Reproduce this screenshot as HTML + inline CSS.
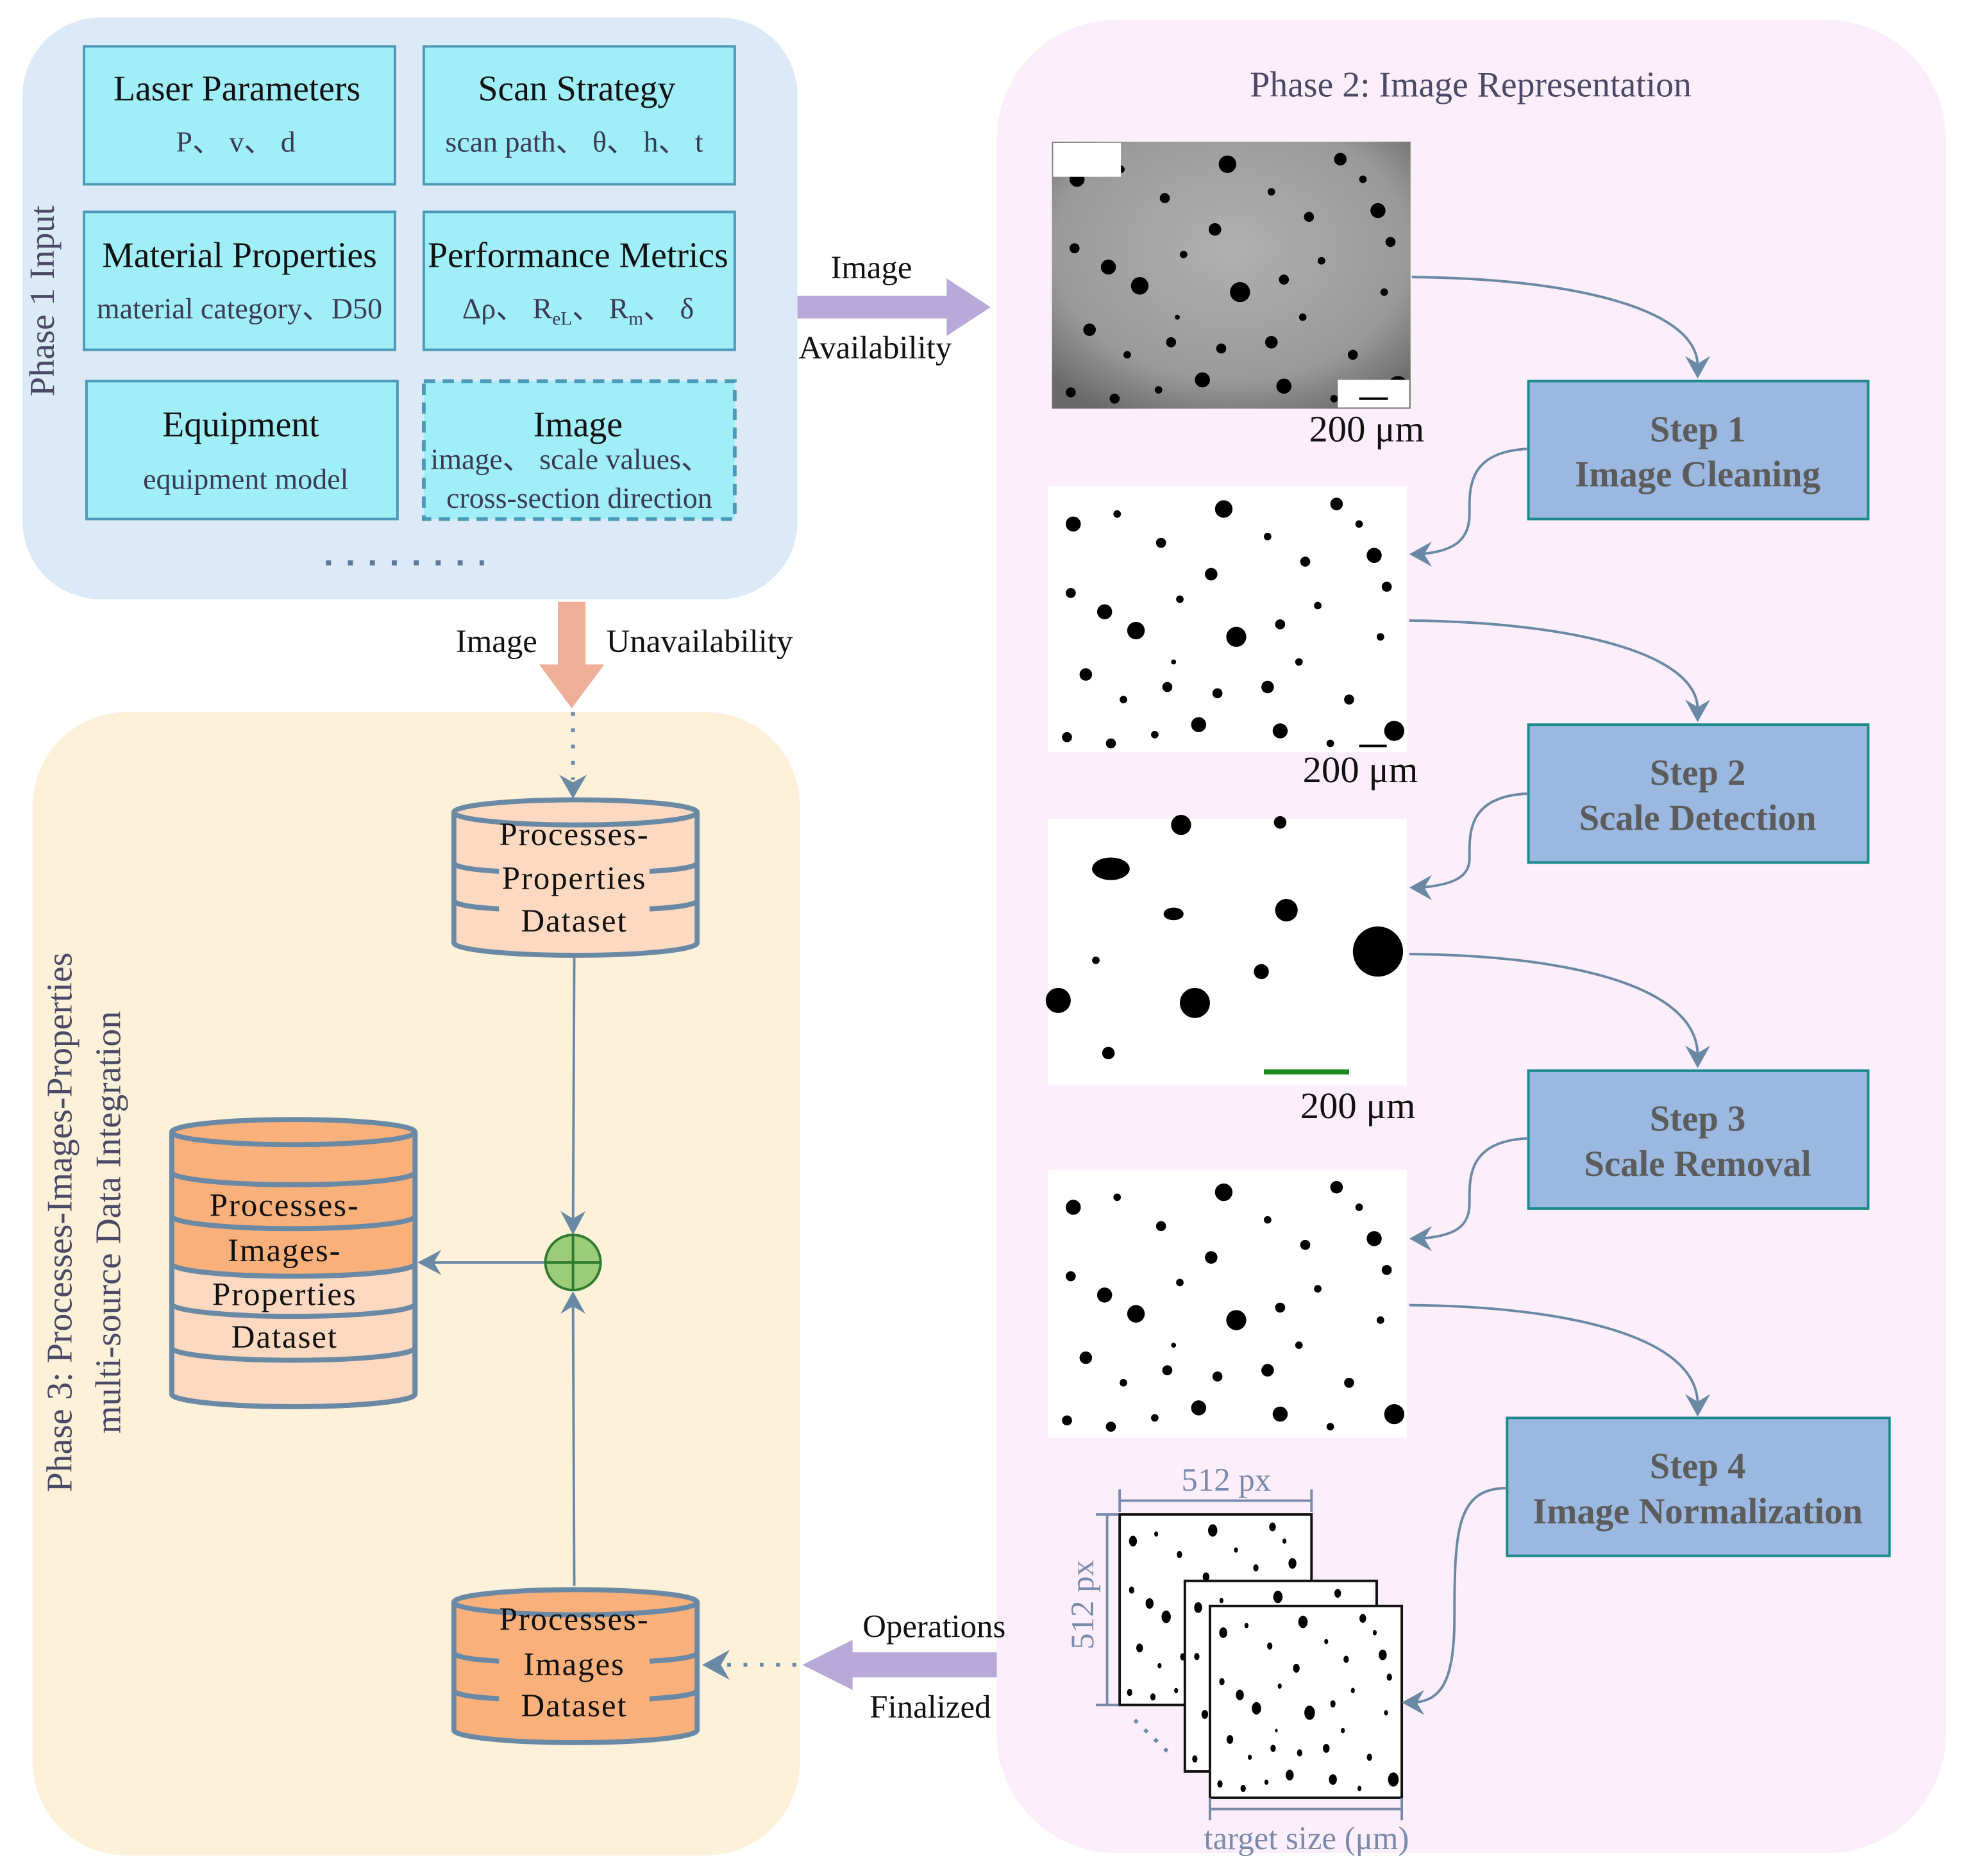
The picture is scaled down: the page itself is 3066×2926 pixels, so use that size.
<!DOCTYPE html>
<html><head><meta charset="utf-8"><style>
html,body{margin:0;padding:0;background:#fff}
svg{display:block}
text{font-family:"Liberation Serif",serif}
</style></head><body>
<svg width="3066" height="2926" viewBox="0 0 1568 1496.4" preserveAspectRatio="none" xmlns="http://www.w3.org/2000/svg">
<defs>
<g id="spots" fill="#000">
<circle cx="20" cy="30" r="6"/><circle cx="55" cy="22" r="3"/><circle cx="90" cy="45" r="4"/><circle cx="140" cy="18" r="7"/><circle cx="175" cy="40" r="3"/><circle cx="230" cy="14" r="5"/><circle cx="260" cy="55" r="6"/>
<circle cx="18" cy="85" r="4"/><circle cx="45" cy="100" r="6"/><circle cx="70" cy="115" r="7"/><circle cx="105" cy="90" r="3"/><circle cx="130" cy="70" r="5"/><circle cx="150" cy="120" r="8"/><circle cx="185" cy="110" r="4"/><circle cx="215" cy="95" r="3"/><circle cx="270" cy="80" r="4"/>
<circle cx="30" cy="150" r="5"/><circle cx="60" cy="170" r="3"/><circle cx="95" cy="160" r="4"/><circle cx="120" cy="190" r="6"/><circle cx="175" cy="160" r="5"/><circle cx="200" cy="140" r="3"/><circle cx="240" cy="170" r="4"/><circle cx="265" cy="120" r="3"/>
<circle cx="15" cy="200" r="4"/><circle cx="50" cy="205" r="4"/><circle cx="85" cy="198" r="3"/><circle cx="135" cy="165" r="4"/><circle cx="185" cy="195" r="6"/><circle cx="225" cy="205" r="3"/><circle cx="276" cy="195" r="8"/><circle cx="248" cy="30" r="3"/><circle cx="100" cy="140" r="2"/><circle cx="205" cy="60" r="4"/>
</g>
<clipPath id="c1"><rect x="0" y="0" width="286" height="213"/></clipPath>
<radialGradient id="gg" cx="0.5" cy="0.4" r="0.7"><stop offset="0" stop-color="#b0b0b0"/><stop offset="0.7" stop-color="#9a9a9a"/><stop offset="1" stop-color="#6a6a6a"/></radialGradient>
</defs>

<!-- Phase 1 panel -->
<rect x="18" y="14" width="618" height="464" rx="62" fill="#dce9f6"/>
<text transform="translate(43,240) rotate(-90)" text-anchor="middle" font-size="28" fill="#4a4a66">Phase 1 Input</text>
<g stroke="#4a9ab8" stroke-width="2" fill="#a0eef7">
<rect x="67" y="37" width="248" height="110"/>
<rect x="338" y="37" width="248" height="110"/>
<rect x="67" y="169" width="248" height="110"/>
<rect x="338" y="169" width="248" height="110"/>
<rect x="69" y="304" width="248" height="110"/>
<rect x="338" y="304" width="248" height="110" stroke-dasharray="9,6" stroke-width="3"/>
</g>
<g font-size="28.5" text-anchor="middle" fill="#111">
<text x="189" y="80">Laser Parameters</text>
<text x="460" y="80">Scan Strategy</text>
<text x="191" y="213">Material Properties</text>
<text x="461" y="213">Performance Metrics</text>
<text x="192" y="348">Equipment</text>
<text x="461" y="348">Image</text>
</g>
<g font-size="23.5" text-anchor="middle" fill="#3a3a55">
<text x="188" y="121">P、 v、 d</text>
<text x="458" y="121">scan path、 θ、 h、 t</text>
<text x="191" y="254">material category、D50</text>
<text x="461" y="254">Δρ、 R<tspan font-size="15" dy="5">eL</tspan><tspan dy="-5">、 R</tspan><tspan font-size="15" dy="5">m</tspan><tspan dy="-5">、 δ</tspan></text>
<text x="196" y="390">equipment model</text>
<text x="455" y="374">image、 scale values、</text>
<text x="462" y="405">cross-section direction</text>
</g>
<line x1="260" y1="449" x2="386" y2="449" stroke="#5a7a9a" stroke-width="4" stroke-dasharray="4,13.5"/>

<!-- Phase 2 panel -->
<rect x="795" y="16" width="757" height="1462" rx="95" fill="#fdeefb"/>
<text x="1173" y="77" text-anchor="middle" font-size="28.5" fill="#4a4a66">Phase 2: Image Representation</text>

<!-- Phase 3 panel -->
<rect x="26" y="568" width="612" height="912" rx="75" fill="#fdf1da"/>
<text transform="translate(57,975) rotate(-90)" text-anchor="middle" font-size="28.5" fill="#4a4a66">Phase 3: Processes-Images-Properties</text>
<text transform="translate(96,975) rotate(-90)" text-anchor="middle" font-size="28.5" fill="#4a4a66">multi-source Data Integration</text>

<!-- availability arrow -->
<polygon points="636,236 755,236 755,222 790,245 755,268 755,254 636,254" fill="#b9a9d9"/>
<text x="695" y="222" text-anchor="middle" font-size="26" fill="#111">Image</text>
<text x="698" y="286" text-anchor="middle" font-size="26" fill="#111">Availability</text>

<!-- unavailability arrow -->
<polygon points="445,480 467,480 467,530 482,530 456,565 430,530 445,530" fill="#eeae98"/>
<text x="396" y="520" text-anchor="middle" font-size="26" fill="#111">Image</text>
<text x="558" y="520" text-anchor="middle" font-size="26" fill="#111">Unavailability</text>
<line x1="457" y1="568" x2="457" y2="622" stroke="#6a89a5" stroke-width="3" stroke-dasharray="3,10"/>
<polygon points="446,618 457,637 468,618 457,624" fill="#6a89a5"/>

<!-- images -->
<g transform="translate(839,113)">
<rect width="286" height="213" fill="url(#gg)"/>
<g clip-path="url(#c1)"><use href="#spots"/></g>
<rect x="1" y="1" width="54" height="27" fill="#fff"/>
<rect x="228" y="190" width="57" height="22" fill="#fff"/>
<line x1="245" y1="205" x2="268" y2="205" stroke="#000" stroke-width="2"/>
</g>
<text x="1090" y="352" text-anchor="middle" font-size="30" fill="#111">200 μm</text>

<g transform="translate(836,388)">
<rect width="286" height="212" fill="#fff"/>
<g clip-path="url(#c1)"><use href="#spots"/></g>
<line x1="248" y1="207" x2="270" y2="207" stroke="#000" stroke-width="2"/>
</g>
<text x="1085" y="624" text-anchor="middle" font-size="30" fill="#111">200 μm</text>

<g transform="translate(836,653)">
<rect width="286" height="213" fill="#fff"/>
<ellipse cx="50" cy="40" rx="15" ry="9"/><ellipse cx="100" cy="76" rx="8" ry="5"/><circle cx="190" cy="73" r="9"/><circle cx="263" cy="106" r="20"/>
<circle cx="170" cy="122" r="6"/><circle cx="117" cy="147" r="12"/><circle cx="8" cy="145" r="10"/><circle cx="106" cy="5" r="8"/><circle cx="185" cy="3" r="5"/><circle cx="38" cy="113" r="3"/><circle cx="48" cy="187" r="5"/>
<line x1="172" y1="202" x2="240" y2="202" stroke="#1a8a1a" stroke-width="4"/>
</g>
<text x="1083" y="892" text-anchor="middle" font-size="30" fill="#111">200 μm</text>

<g transform="translate(836,933)">
<rect width="286" height="214" fill="#fff"/>
<g clip-path="url(#c1)"><use href="#spots"/></g>
</g>

<!-- stack -->
<rect x="893" y="1208" width="153" height="152" fill="#fff" stroke="#111" stroke-width="2"/>
<g transform="translate(893,1208) scale(0.53,0.71)"><use href="#spots"/></g>
<rect x="945" y="1261" width="153" height="152" fill="#fff" stroke="#111" stroke-width="2"/>
<g transform="translate(945,1261) scale(0.53,0.71)"><use href="#spots"/></g>
<rect x="965" y="1281" width="153" height="153" fill="#fff" stroke="#111" stroke-width="2"/>
<g transform="translate(965,1281) scale(0.53,0.71)"><use href="#spots"/></g>
<line x1="905" y1="1372" x2="932" y2="1398" stroke="#6a89a5" stroke-width="3" stroke-dasharray="3,8"/>
<g stroke="#7a8aaa" stroke-width="2" fill="none">
<line x1="893" y1="1197" x2="1046" y2="1197"/><line x1="893" y1="1188" x2="893" y2="1206"/><line x1="1046" y1="1188" x2="1046" y2="1206"/>
<line x1="883" y1="1208" x2="883" y2="1360"/><line x1="874" y1="1208" x2="892" y2="1208"/><line x1="874" y1="1360" x2="892" y2="1360"/>
<line x1="965" y1="1443" x2="1118" y2="1443"/><line x1="965" y1="1434" x2="965" y2="1452"/><line x1="1118" y1="1434" x2="1118" y2="1452"/>
</g>
<text x="978" y="1189" text-anchor="middle" font-size="26" fill="#7a8aaa">512 px</text>
<text transform="translate(872,1280) rotate(-90)" text-anchor="middle" font-size="26" fill="#7a8aaa">512 px</text>
<text x="1042" y="1475" text-anchor="middle" font-size="26" fill="#7a8aaa">target size (μm)</text>

<!-- steps -->
<g fill="#9bb8e0" stroke="#1a8a8a" stroke-width="2">
<rect x="1219" y="304" width="271" height="110"/>
<rect x="1219" y="578" width="271" height="110"/>
<rect x="1219" y="854" width="271" height="110"/>
<rect x="1202" y="1131" width="305" height="110"/>
</g>
<g font-size="29" font-weight="bold" text-anchor="middle" fill="#5c5c5c">
<text x="1354" y="352">Step 1</text><text x="1354" y="388">Image Cleaning</text>
<text x="1354" y="626">Step 2</text><text x="1354" y="662">Scale Detection</text>
<text x="1354" y="902">Step 3</text><text x="1354" y="938">Scale Removal</text>
<text x="1354" y="1179">Step 4</text><text x="1354" y="1215">Image Normalization</text>
</g>

<!-- curves -->
<g stroke="#6a89a5" stroke-width="2" fill="none">
<path d="M1126,221 C1250,222 1354,245 1354,292"/>
<path d="M1124,495 C1250,496 1354,520 1354,566"/>
<path d="M1124,761 C1250,762 1354,786 1354,842"/>
<path d="M1124,1041 C1250,1042 1354,1066 1354,1120"/>
<path d="M1219,358 C1170,360 1172,390 1172,410 C1172,432 1158,440 1132,442"/>
<path d="M1219,633 C1170,635 1172,665 1172,685 C1172,700 1158,706 1132,708"/>
<path d="M1219,908 C1170,910 1172,940 1172,960 C1172,980 1158,986 1132,988"/>
<path d="M1202,1187 C1162,1187 1160,1220 1160,1290 C1160,1340 1150,1358 1125,1358"/>
</g>
<g fill="#6a89a5">
<polygon points="1344,284 1354,302 1364,284 1354,290"/>
<polygon points="1344,558 1354,576 1364,558 1354,564"/>
<polygon points="1344,834 1354,852 1364,834 1354,840"/>
<polygon points="1344,1112 1354,1130 1364,1112 1354,1118"/>
<polygon points="1142,432 1124,442 1142,452 1136,442"/>
<polygon points="1142,698 1124,708 1142,718 1136,708"/>
<polygon points="1142,978 1124,988 1142,998 1136,988"/>
<polygon points="1136,1348 1118,1358 1136,1368 1130,1358"/>
</g>

<!-- cylinders -->
<g stroke="#6a89a5" stroke-width="4">
<path d="M362,648 L362,752 A97,10 0 0 0 556,752 L556,648" fill="#fcd9c0"/>
<ellipse cx="459" cy="648" rx="97" ry="10" fill="#fcd9c0"/>
<path d="M362,688 Q362,693 398,695 M518,695 Q556,693 556,688 M362,718 Q362,723 398,725 M518,725 Q556,723 556,718" fill="none"/>

<path d="M137,903 L137,1112 A97,10 0 0 0 331,1112 L331,903" fill="#fcd9c0"/>
<path d="M137,903 L137,1010 A97,10 0 0 0 331,1010 L331,903 Z" fill="#f9b07a" stroke="none"/>
<path d="M137,903 L137,1112 A97,10 0 0 0 331,1112 L331,903" fill="none"/>
<ellipse cx="234" cy="903" rx="97" ry="10" fill="#f9b07a"/>
<path d="M137,935 A97,10 0 0 0 331,935 M137,970 A97,10 0 0 0 331,970 M137,1008 A97,10 0 0 0 331,1008 M137,1040 A97,10 0 0 0 331,1040 M137,1075 A97,10 0 0 0 331,1075" fill="none"/>

<path d="M362,1278 L362,1380 A97,10 0 0 0 556,1380 L556,1278" fill="#f9b07a"/>
<ellipse cx="459" cy="1278" rx="97" ry="10" fill="#f9b07a"/>
<path d="M362,1318 Q362,1323 398,1325 M518,1325 Q556,1323 556,1318 M362,1348 Q362,1353 398,1355 M518,1355 Q556,1353 556,1348" fill="none"/>
</g>
<g font-size="26" text-anchor="middle" fill="#111" letter-spacing="1">
<text x="458" y="674">Processes-</text><text x="458" y="709">Properties</text><text x="458" y="743">Dataset</text>
<text x="227" y="970">Processes-</text><text x="227" y="1006">Images-</text><text x="227" y="1041">Properties</text><text x="227" y="1075">Dataset</text>
<text x="458" y="1300">Processes-</text><text x="458" y="1336">Images</text><text x="458" y="1369">Dataset</text>
</g>

<!-- connections -->
<g stroke="#6a89a5" stroke-width="2" fill="none">
<line x1="458" y1="764" x2="457" y2="980"/>
<line x1="458" y1="1265" x2="457" y2="1035"/>
<line x1="435" y1="1007" x2="340" y2="1007"/>
</g>
<g fill="#6a89a5">
<polygon points="447,966 457,985 467,966 457,972"/>
<polygon points="447,1048 457,1030 467,1048 457,1042"/>
<polygon points="352,997 333,1007 352,1017 346,1007"/>
</g>
<circle cx="457" cy="1007" r="22" fill="#9ccc7a" stroke="#2f7a2f" stroke-width="2"/>
<line x1="435" y1="1007" x2="479" y2="1007" stroke="#2f7a2f" stroke-width="2"/>
<line x1="457" y1="985" x2="457" y2="1029" stroke="#2f7a2f" stroke-width="2"/>

<!-- finalized arrow -->
<polygon points="795,1318 680,1318 680,1308 640,1328 680,1348 680,1338 795,1338" fill="#b9a9d9"/>
<text x="745" y="1306" text-anchor="middle" font-size="26" fill="#111">Operations</text>
<text x="742" y="1370" text-anchor="middle" font-size="26" fill="#111">Finalized</text>
<line x1="635" y1="1328" x2="580" y2="1328" stroke="#6a89a5" stroke-width="3" stroke-dasharray="3,10"/>
<polygon points="582,1316 560,1328 582,1340 575,1328" fill="#6a89a5"/>
</svg>
</body></html>
